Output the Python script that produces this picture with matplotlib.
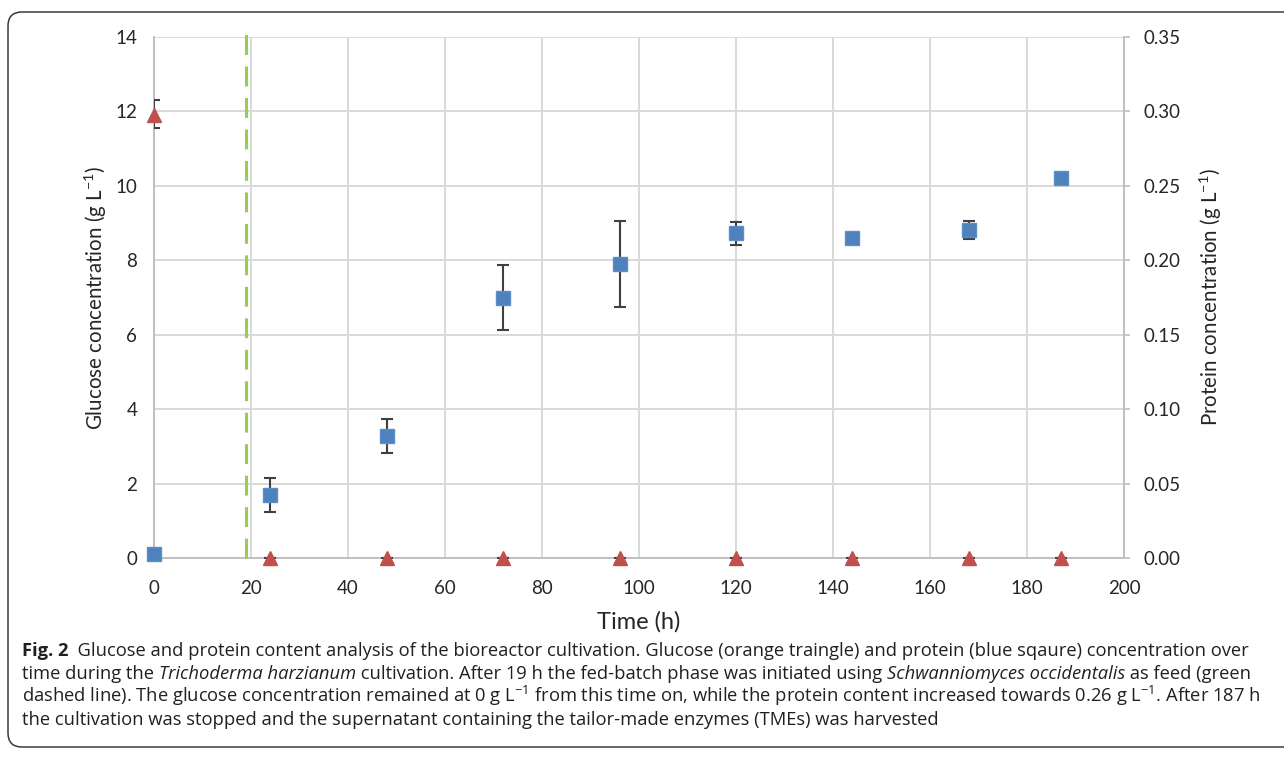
import matplotlib
matplotlib.use("Agg")
import matplotlib.pyplot as plt
from matplotlib.patches import FancyBboxPatch
from matplotlib.transforms import IdentityTransform
import numpy as np

# ---------------- data ----------------
time_glucose = [0, 24, 48, 72, 96, 120, 144, 168, 187]
glucose = [11.9, 0, 0, 0, 0, 0, 0, 0, 0]
glucose_err_low = [0.35, 0, 0, 0, 0, 0, 0, 0, 0]
glucose_err_high = [0.42, 0, 0, 0, 0, 0, 0, 0, 0]

time_protein = [0, 24, 48, 72, 96, 120, 144, 168, 187]
protein = [0.0025, 0.0425, 0.082, 0.175, 0.1975, 0.218, 0.215, 0.2205, 0.255]
protein_err_low = [0.0, 0.0115, 0.0115, 0.022, 0.029, 0.0075, 0.001, 0.006, 0.002]
protein_err_high = [0.0, 0.0115, 0.0115, 0.022, 0.029, 0.0075, 0.001, 0.006, 0.002]

feed_start = 19

x_ticks = [0, 20, 40, 60, 80, 100, 120, 140, 160, 180, 200]
left_ticks = [0, 2, 4, 6, 8, 10, 12, 14]
right_ticks = [0.00, 0.05, 0.10, 0.15, 0.20, 0.25, 0.30, 0.35]

# ---------------- style ----------------
W, H = 1284, 757
DPI = 100
TICK_FONT = "Lato"
CAP_FONT = "Open Sans"
plt.rcParams["mathtext.fontset"] = "custom"
plt.rcParams["mathtext.rm"] = "Open Sans"
plt.rcParams["mathtext.it"] = "Open Sans:italic"
plt.rcParams["mathtext.bf"] = "Open Sans:bold"

RED = "#C0504D"
BLUE = "#4F81BD"
GREEN = "#92D050"
GRID = "#D9D9D9"
SPINE = "#BFBFBF"
TXT = "#262626"
ERR = "#404040"

fig = plt.figure(figsize=(W / DPI, H / DPI), dpi=DPI)
fig.patch.set_facecolor("white")

# frame around figure (pixel coordinates)
frame = FancyBboxPatch((8, 10), 1320, 735, boxstyle="round,pad=0,rounding_size=14",
                       transform=IdentityTransform(), facecolor="none",
                       edgecolor="#3a3a3a", linewidth=1.1, zorder=0)
fig.patches.append(frame)

left, right, top, bottom = 154, 1124, 37, 558
ax = fig.add_axes([left / W, 1 - bottom / H, (right - left) / W, (bottom - top) / H])
ax2 = ax.twinx()

ax.set_xlim(0, 200)
ax.set_ylim(0, 14)
ax2.set_ylim(0, 0.35)

ax.set_xticks(x_ticks)
ax.set_yticks(left_ticks)
ax2.set_yticks(right_ticks)
ax2.set_yticklabels([f"{v:.2f}" for v in right_ticks])

ax.grid(True, color=GRID, linewidth=1.4)
ax.set_axisbelow(True)

for a in (ax, ax2):
    a.spines["top"].set_visible(False)
ax.spines["right"].set_visible(False)
ax2.spines["left"].set_visible(False)
ax2.spines["bottom"].set_visible(False)
ax.spines["left"].set_color(SPINE)
ax.spines["bottom"].set_color(SPINE)
ax2.spines["right"].set_color(SPINE)
for s in (ax.spines["left"], ax.spines["bottom"], ax2.spines["right"]):
    s.set_linewidth(1.4)

ax.tick_params(axis="both", length=0, labelsize=13.5, labelcolor=TXT)
ax.tick_params(axis="y", pad=12)
ax.tick_params(axis="x", pad=16)
ax2.tick_params(axis="y", length=4, width=1.2, color=SPINE, labelsize=13.5,
                labelcolor=TXT, pad=10, direction="out")
for lab in ax.get_xticklabels() + ax.get_yticklabels() + ax2.get_yticklabels():
    lab.set_fontfamily(TICK_FONT)

ax.set_xlabel("Time (h)", fontsize=17, family=TICK_FONT, color=TXT, labelpad=10)
ax.set_ylabel(r"Glucose concentration (g L$^{\mathregular{-1}}$)", fontsize=14.8,
              family=TICK_FONT, color=TXT, labelpad=5)
ax2.set_ylabel(r"Protein concentration (g L$^{\mathregular{-1}}$)", fontsize=14.8,
               family=TICK_FONT, color=TXT, labelpad=12)

# feed start line
ax.plot([feed_start, feed_start], [0, 14.2], color=GREEN, linewidth=2.2,
        linestyle=(0, (6.5, 3.8)), clip_on=False, zorder=3)

# glucose (left axis)
ax.errorbar(time_glucose, glucose, yerr=[glucose_err_low, glucose_err_high],
            fmt="none", ecolor=ERR, elinewidth=1.5, capsize=4.2, capthick=1.5,
            zorder=4)
ax.plot(time_glucose, glucose, linestyle="none", marker="^", markersize=10.5,
        color=RED, markeredgecolor=RED, clip_on=False, zorder=5)

# protein (right axis)
ax2.errorbar(time_protein, protein, yerr=[protein_err_low, protein_err_high],
             fmt="none", ecolor=ERR, elinewidth=1.5, capsize=4.2, capthick=1.5,
             zorder=4)
ax2.plot(time_protein, protein, linestyle="none", marker="s", markersize=10,
         color=BLUE, markeredgecolor="#5B8FCB", clip_on=False, zorder=5)

# ---------------- caption ----------------
cap_lines = [
    [("Fig. 2", "bold", "normal"), ("  Glucose and protein content analysis of the bioreactor cultivation. Glucose (orange traingle) and protein (blue sqaure) concentration over", "normal", "normal")],
    [("time during the ", "normal", "normal"), ("Trichoderma harzianum", "normal", "italic"), (" cultivation. After 19 h the fed-batch phase was initiated using ", "normal", "normal"), ("Schwanniomyces occidentalis", "normal", "italic"), (" as feed (green", "normal", "normal")],
    [("dashed line). The glucose concentration remained at 0 g L$^{-1}$ from this time on, while the protein content increased towards 0.26 g L$^{-1}$. After 187 h", "normal", "normal")],
    [("the cultivation was stopped and the supernatant containing the tailor-made enzymes (TMEs) was harvested", "normal", "normal")],
]

renderer = fig.canvas.get_renderer()


def draw_line(segs, x0, y, size):
    x = x0
    texts = []
    for s, w, st in segs:
        t = fig.text(x, y, s, transform=IdentityTransform(), fontsize=size,
                     family=CAP_FONT, fontweight=w, fontstyle=st, color="#231F20",
                     va="baseline", ha="left")
        bb = t.get_window_extent(renderer)
        x = bb.x1
        texts.append(t)
    return texts, x - x0


# fit font size to target width of the first line
target = 1248 - 22
probe, wdt = draw_line(cap_lines[0], 22, -100, 10)
for t in probe:
    t.remove()
cap_size = 10 * target / wdt

baselines = [H - 656, H - 679, H - 702, H - 725]
for segs, yb in zip(cap_lines, baselines):
    draw_line(segs, 22, yb, cap_size)

fig.savefig("out.png", dpi=DPI, facecolor="white")
